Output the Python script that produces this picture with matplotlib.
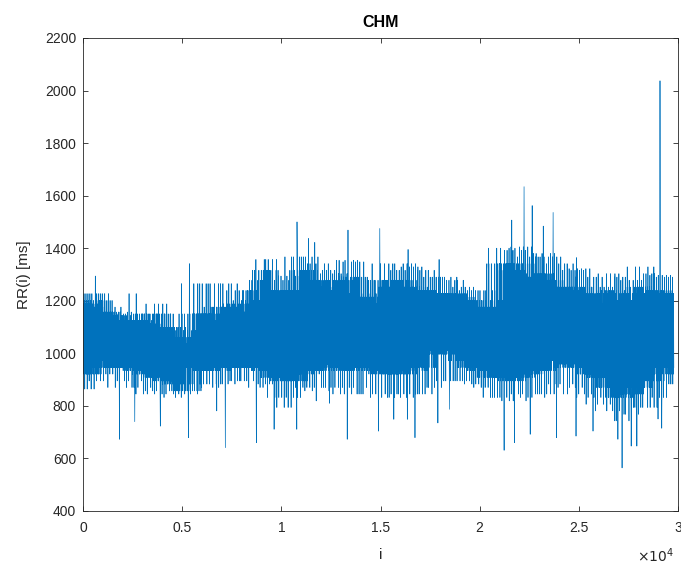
"""Serie RR(i) do registro CHM, no estilo de um plot do MATLAB."""

import matplotlib
matplotlib.use("Agg")
import matplotlib.pyplot as plt
import numpy as np

plt.rcParams["font.family"] = ["Liberation Sans", "DejaVu Sans"]

N_AMOSTRAS = 29800

# faixa densa (nucleo) e franja de cada bloco de ~500 amostras, em ms
nucleo_sup = [1188, 1201, 1157, 1144, 1125, 1125, 1112, 1150, 1099, 1061,
              1036, 1150, 1150, 1125, 1176, 1188, 1157, 1239, 1316, 1239,
              1214, 1239, 1316, 1278, 1252, 1239, 1278, 1290, 1214, 1188,
              1278, 1252, 1278, 1252, 1239, 1227, 1227, 1227, 1214, 1201,
              1176, 1163, 1341, 1316, 1341, 1290, 1303, 1278, 1252, 1239,
              1252, 1227, 1188, 1239, 1227, 1201, 1252, 1227, 1239, 1227]
nucleo_inf = [921, 946, 972, 946, 946, 934, 921, 908, 895, 883,
              857, 946, 934, 934, 946, 946, 946, 946, 934, 908,
              895, 895, 921, 934, 946, 959, 934, 946, 946, 934,
              921, 921, 921, 934, 946, 997, 1010, 997, 972, 946,
              934, 908, 908, 895, 908, 921, 934, 946, 972, 959,
              946, 921, 908, 870, 832, 845, 870, 895, 921, 946]
franja_sup = [1227, 1227, 1176, 1157, 1150, 1150, 1150, 1188, 1150, 1099,
              1087, 1265, 1265, 1176, 1265, 1239, 1201, 1278, 1357, 1278,
              1294, 1367, 1367, 1341, 1316, 1303, 1354, 1348, 1227, 1278,
              1341, 1316, 1341, 1329, 1316, 1290, 1290, 1278, 1252, 1239,
              1239, 1201, 1400, 1392, 1405, 1367, 1380, 1367, 1341, 1316,
              1322, 1290, 1252, 1303, 1290, 1278, 1329, 1303, 1297, 1290]
franja_inf = [864, 895, 921, 870, 895, 870, 845, 857, 845, 832,
              845, 883, 883, 870, 883, 895, 895, 870, 883, 832,
              794, 832, 870, 857, 870, 870, 845, 870, 845, 845,
              832, 845, 832, 845, 845, 870, 895, 895, 895, 883,
              870, 832, 832, 819, 845, 832, 845, 845, 883, 870,
              845, 832, 806, 781, 743, 768, 794, 794, 832, 883]

# picos isolados: amostra i e RR(i) em ms
pico_i = [621, 1837, 2319, 2609, 2686, 3902, 5311, 5369, 6739, 7183,
          8746, 9210, 9634, 10773, 10792, 11371, 11680, 11757, 12433, 13320,
          13359, 14903, 14961, 15675, 16350, 16389, 16737, 17895, 17952, 18474,
          20346, 21233, 21619, 21755, 22237, 22546, 22642, 23202, 23704, 23878,
          24862, 24881, 25711, 26966, 27178, 27641, 27931, 28992, 29089, 29185]
pico_rr = [1294, 673, 1227, 740, 1227, 723, 679, 1341, 781, 641,
           660, 1357, 711, 711, 1500, 1437, 1422, 819, 810, 673,
           1469, 704, 1475, 749, 749, 1395, 679, 735, 1357, 787,
           1318, 631, 1507, 660, 1634, 692, 1562, 1484, 1536, 679,
           685, 1364, 704, 673, 564, 647, 647, 750, 2037, 715]

# ordem em que cada oscilacao do bloco pega um dos niveis lidos:
# 0 = nucleo do bloco, 1/2 = nucleo do vizinho esq./dir., 3/4/5 = franja (bloco, esq., dir.)
ORDEM_TOPO = [0, 1, 3, 2, 0, 1, 4, 2, 0, 1, 5, 2, 0, 1, 3, 0, 2, 1, 4, 0]
ORDEM_FUNDO = [2, 0, 1, 4, 0, 2, 1, 0, 3, 2, 1, 0, 5, 1, 2, 0, 3, 1, 0, 2]


def _niveis(nucleo: list[int], franja: list[int], k: int) -> list[int]:
    def pega(lista, j):
        return lista[min(max(j, 0), len(lista) - 1)]
    return [pega(nucleo, k), pega(nucleo, k - 1), pega(nucleo, k + 1),
            pega(franja, k), pega(franja, k - 1), pega(franja, k + 1)]


def _montar_serie() -> tuple[np.ndarray, np.ndarray]:
    rr = []
    n = len(ORDEM_TOPO)
    for k in range(len(nucleo_sup)):
        altos = _niveis(nucleo_sup, franja_sup, k)
        baixos = _niveis(nucleo_inf, franja_inf, k)
        r = (7 * k) % n
        for j in range(n):
            rr += [altos[ORDEM_TOPO[(j + r) % n]], baixos[ORDEM_FUNDO[(j + 3 * r) % n]]]
    rr = np.array(rr, dtype=float)
    i = np.arange(len(rr)) * (N_AMOSTRAS / len(rr))
    for pi, pv in zip(pico_i, pico_rr):
        rr[int(np.argmin(np.abs(i - pi)))] = pv
    return i, rr


def gerar_figura(nome_saida: str = "out.png") -> str:
    i, rr = _montar_serie()
    cinza = "#262626"

    fig = plt.figure(figsize=(6.81, 5.68), dpi=100)
    ax = fig.add_axes([0.1219, 0.1004, 0.8737, 0.8327])
    ax.plot(i, rr, color="#0072BD", lw=0.5)

    ax.set_xlim(0, 30000)
    ax.set_ylim(400, 2200)
    ax.set_xticks(np.arange(0, 30001, 5000))
    ax.set_xticklabels(["0", "0.5", "1", "1.5", "2", "2.5", "3"])
    ax.set_yticks(np.arange(400, 2201, 200))
    ax.tick_params(direction="in", length=3.5, width=0.6, colors=cinza,
                   labelsize=10, top=True, right=True)
    ax.tick_params(axis="x", pad=7.5)
    ax.tick_params(axis="y", pad=5)
    for sp in ax.spines.values():
        sp.set_color(cinza)
        sp.set_linewidth(0.6)

    ax.set_title("CHM", fontsize=11.5, fontweight="bold", color="black", pad=8)
    ax.set_xlabel("i", fontsize=11, color=cinza, labelpad=9)
    ax.set_ylabel("RR(i) [ms]", fontsize=11, color=cinza, labelpad=10)
    ax.text(0.993, -0.114, r"$\times 10^4$", transform=ax.transAxes,
            ha="right", va="bottom", fontsize=10, color=cinza,
            fontfamily="Liberation Sans")

    fig.savefig(nome_saida, dpi=100)
    plt.close(fig)
    return nome_saida


if __name__ == "__main__":
    print(gerar_figura())
